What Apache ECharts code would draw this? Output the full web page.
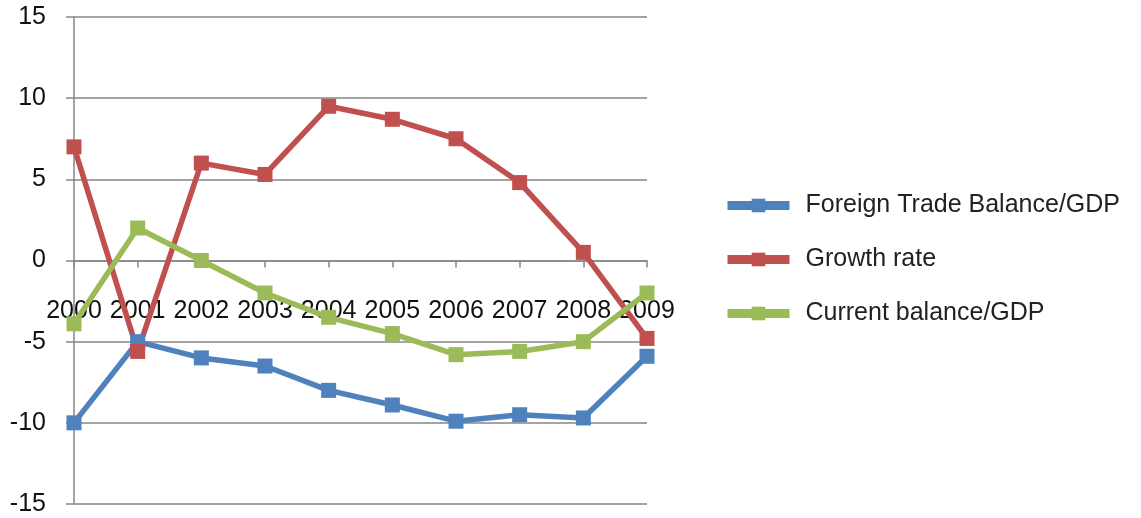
<!DOCTYPE html>
<html>
<head>
<meta charset="utf-8">
<script src="https://cdn.jsdelivr.net/npm/echarts@6/dist/echarts.min.js"></script>
<style>
  html, body { margin: 0; padding: 0; background: #fff; }
  #chart { width: 1141px; height: 518px; }
</style>
</head>
<body>
<div id="chart"></div>
<script>
  // values
  const years = ['2000', '2001', '2002', '2003', '2004', '2005', '2006', '2007', '2008', '2009'];
  const tradeBalance = [-10, -5, -6, -6.5, -8, -8.9, -9.9, -9.5, -9.7, -5.9];
  const growthRate = [7, -5.6, 6, 5.3, 9.5, 8.7, 7.5, 4.8, 0.5, -4.8];
  const currentBalance = [-3.9, 2, 0, -2, -3.5, -4.5, -5.8, -5.6, -5, -2];

  const font = 'Liberation Sans';
  let chart = echarts.init(document.getElementById('chart'));

  function lineSeries(name, data, color) {
    return {
      name: name,
      type: 'line',
      data: data,
      symbol: 'rect',
      symbolSize: 15,
      color: color,
      lineStyle: { width: 5.5, color: color },
      itemStyle: { color: color },
      animation: false
    };
  }

  chart.setOption({
    grid: { left: 74, right: 494, top: 17, bottom: 14, outerBoundsMode: 'none', containLabel: false },
    legend: {
      orient: 'vertical',
      left: 718,
      top: 188,
      itemWidth: 62,
      itemHeight: 17,
      itemGap: 29,
      lineStyle: { width: 9 },
      textStyle: { fontFamily: font, fontSize: 25, color: '#222', padding: [0, 0, 0, 11] },
      data: ['Foreign Trade Balance/GDP', 'Growth rate', 'Current balance/GDP']
    },
    xAxis: {
      type: 'category',
      data: years,
      boundaryGap: false,
      axisLine: { onZero: true, lineStyle: { color: '#868686', width: 1.5 } },
      axisTick: { show: true, length: 7, lineStyle: { color: '#868686', width: 1.5 } },
      // labels sit just under the zero line, as in the picture
      axisLabel: { margin: -205, interval: 0, fontFamily: font, fontSize: 25, color: '#111' },
      splitLine: { show: false }
    },
    yAxis: {
      type: 'value',
      min: -15,
      max: 15,
      interval: 5,
      axisLine: { show: true, lineStyle: { color: '#868686', width: 1.5 } },
      axisTick: { show: true, length: 8, lineStyle: { color: '#868686', width: 1.5 } },
      axisLabel: { margin: 28, fontFamily: font, fontSize: 25, color: '#111' },
      splitLine: { lineStyle: { color: '#868686', width: 1.5 } }
    },
    series: [
      lineSeries('Foreign Trade Balance/GDP', tradeBalance, '#4F81BD'),
      lineSeries('Growth rate', growthRate, '#C0504D'),
      lineSeries('Current balance/GDP', currentBalance, '#9BBB59')
    ]
  });
</script>
</body>
</html>
